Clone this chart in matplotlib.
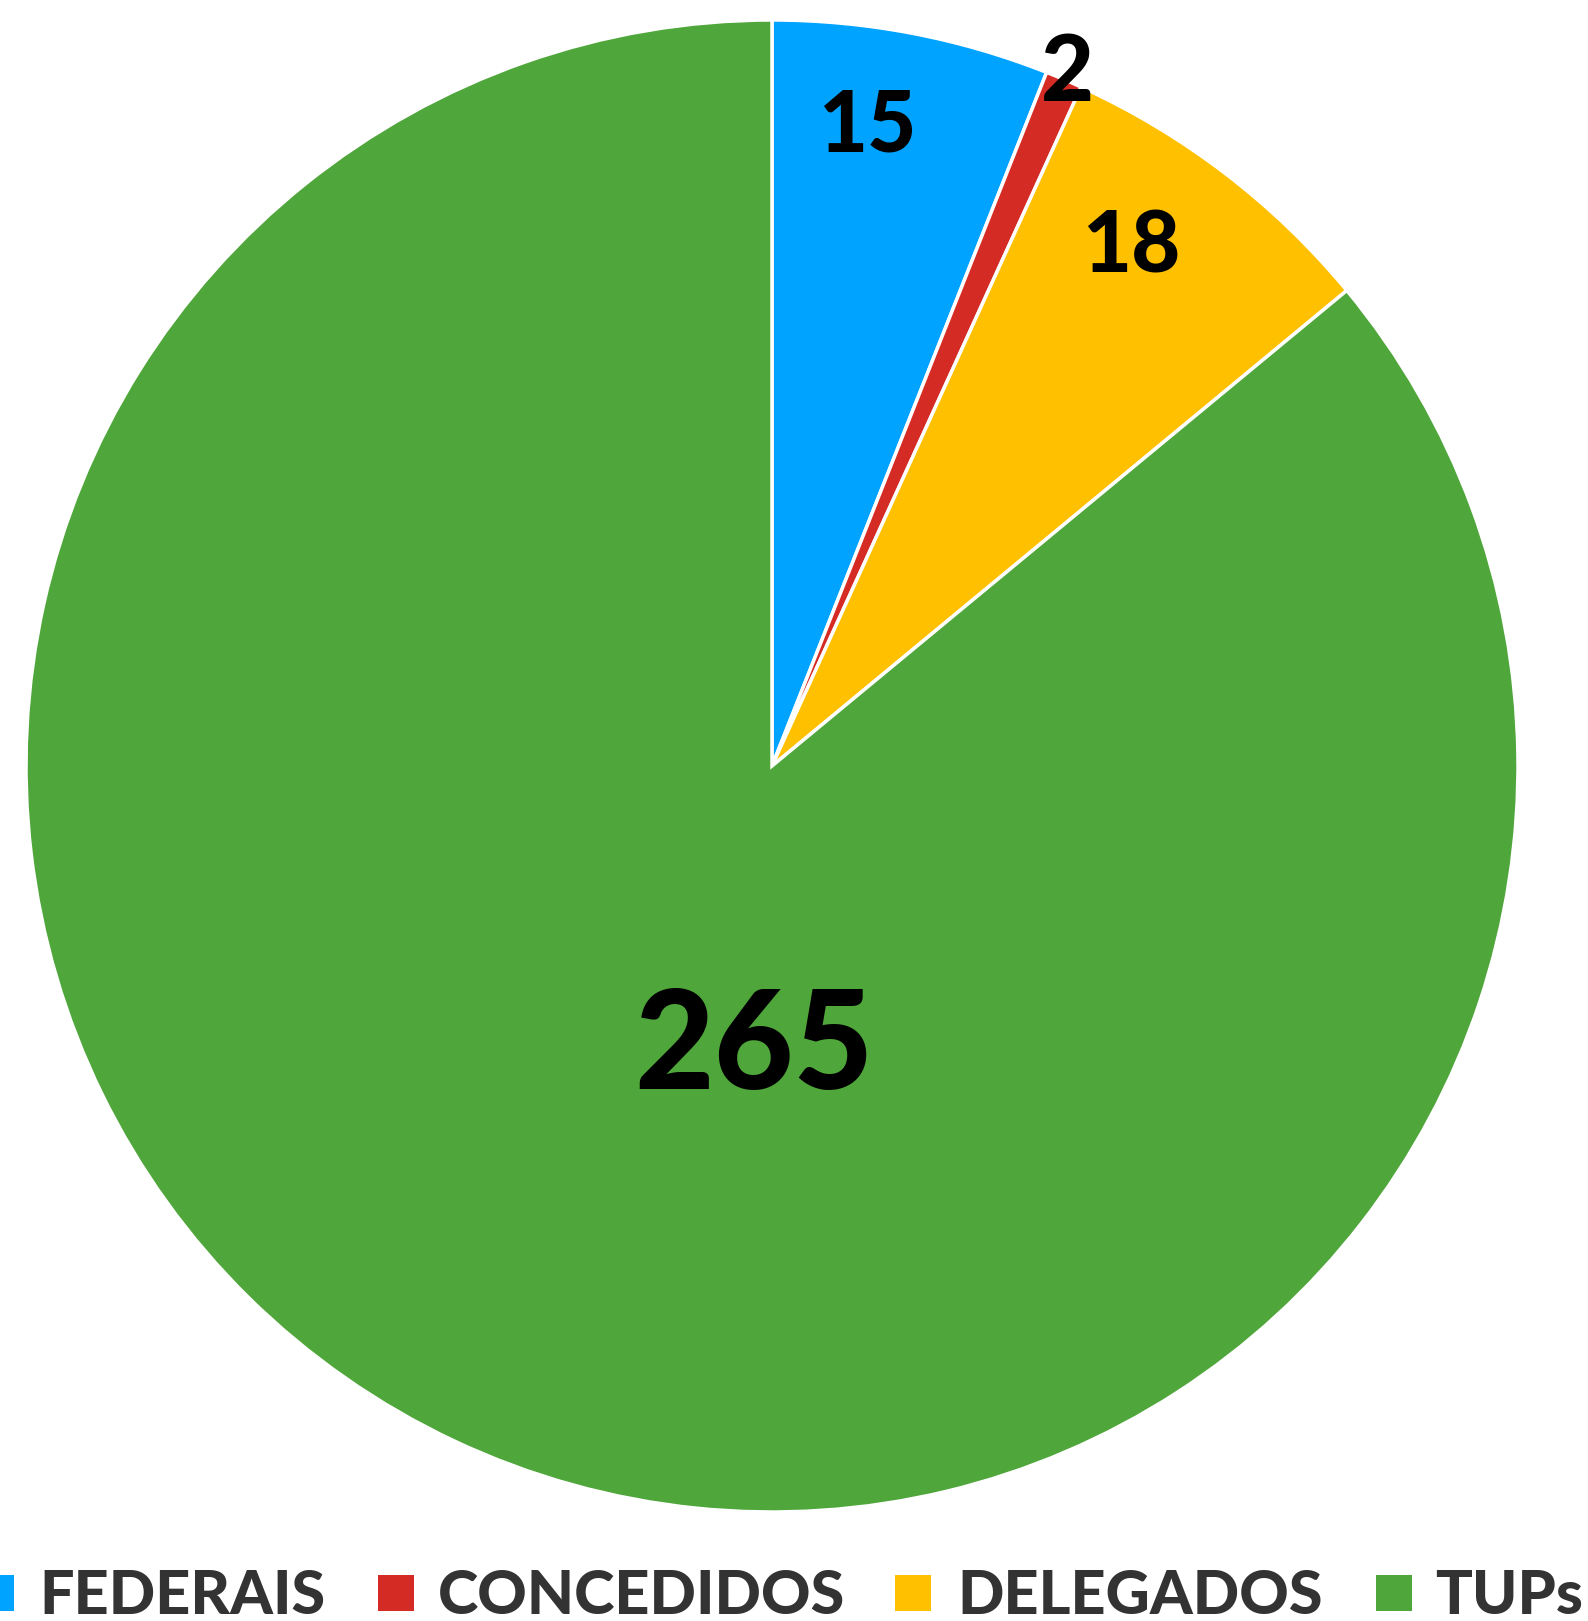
import matplotlib.pyplot as plt
from matplotlib.patches import Rectangle

# legend categories and the numbers printed on the slices
categories = ["FEDERAIS", "CONCEDIDOS", "DELEGADOS", "TUPs"]
label_values = [15, 2, 18, 265]
# slice sizes as drawn in the picture (the green slice is drawn smaller than its label)
slice_sizes = [15, 2, 18, 215]
colors = ["#00A3FF", "#D52B25", "#FFC000", "#4FA63A"]

W, H = 1588, 1621
fig = plt.figure(figsize=(W / 100, H / 100), dpi=100)
fig.patch.set_facecolor("white")

cx, cy, r = 772, 766, 746
ax = fig.add_axes([(cx - r) / W, (H - cy - r) / H, 2 * r / W, 2 * r / H])
ax.pie(slice_sizes, colors=colors, startangle=90, counterclock=False, radius=1,
       wedgeprops=dict(edgecolor="white", linewidth=2.5))
ax.set_xlim(-1, 1)
ax.set_ylim(-1, 1)
ax.set_aspect("equal")
ax.axis("off")

# value labels
label_pos = [(0.127, 0.866), (0.396, 0.937), (0.482, 0.704), (-0.024, -0.364)]
label_size = [61, 66, 61, 99]
for v, (x, y), s in zip(label_values, label_pos, label_size):
    ax.text(x, y, str(v), ha="center", va="center_baseline", fontsize=s,
            fontweight="black", family="Lato", color="black")

# legend drawn by hand, it runs off both sides of the picture
sq_left = [-22, 378, 895, 1376]
txt_left = [39, 438, 957, 1435]
sq = 36
for name, c, sx, tx in zip(categories, colors, sq_left, txt_left):
    fig.patches.append(Rectangle((sx / W, (H - 1611) / H), sq / W, sq / H,
                                 transform=fig.transFigure, facecolor=c,
                                 edgecolor="none"))
    fig.text(tx / W, (H - 1591) / H, name, ha="left", va="center_baseline",
             fontsize=44, fontweight="black", family="Lato", color="#333333")

fig.savefig("out.png", dpi=100)
